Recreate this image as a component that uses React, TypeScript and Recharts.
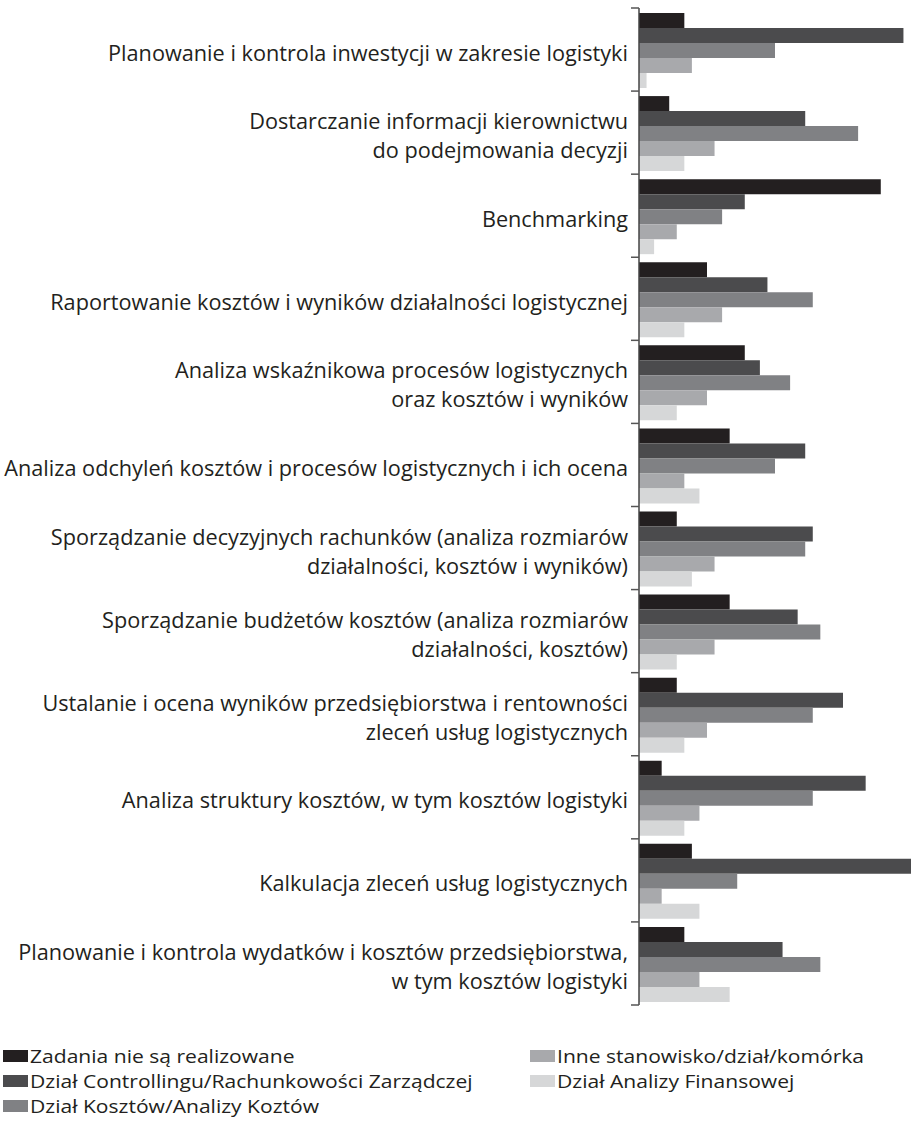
import React from "react";
import { BarChart, Bar, XAxis, YAxis } from "recharts";

// Categories (top to bottom); "\n" marks a line break in the axis label
const categories: string[] = [
  "Planowanie i kontrola inwestycji w zakresie logistyki",
  "Dostarczanie informacji kierownictwu\ndo podejmowania decyzji",
  "Benchmarking",
  "Raportowanie kosztów i wyników działalności logistycznej",
  "Analiza wskaźnikowa procesów logistycznych\noraz kosztów i wyników",
  "Analiza odchyleń kosztów i procesów logistycznych i ich ocena",
  "Sporządzanie decyzyjnych rachunków (analiza rozmiarów\ndziałalności, kosztów i wyników)",
  "Sporządzanie budżetów kosztów (analiza rozmiarów\ndziałalności, kosztów)",
  "Ustalanie i ocena wyników przedsiębiorstwa i rentowności\nzleceń usług logistycznych",
  "Analiza struktury kosztów, w tym kosztów logistyki",
  "Kalkulacja zleceń usług logistycznych",
  "Planowanie i kontrola wydatków i kosztów przedsiębiorstwa,\nw tym kosztów logistyki",
];

const seriesNames: string[] = [
  "Zadania nie są realizowane",
  "Dział Controllingu/Rachunkowości Zarządczej",
  "Dział Kosztów/Analizy Koztów",
  "Inne stanowisko/dział/komórka",
  "Dział Analizy Finansowej",
];

const zadaniaNieRealizowane: number[] = [6, 4, 32, 9, 14, 12, 5, 12, 5, 3, 7, 6];
const dzialControllingu: number[] = [35, 22, 14, 17, 16, 22, 23, 21, 27, 30, 36, 19];
const dzialKosztow: number[] = [18, 29, 11, 23, 20, 18, 22, 24, 23, 23, 13, 24];
const inneStanowisko: number[] = [7, 10, 5, 11, 9, 6, 10, 10, 9, 8, 3, 8];
const dzialAnalizyFinansowej: number[] = [1, 6, 2, 6, 5, 8, 7, 5, 6, 6, 8, 12];

const seriesValues: number[][] = [
  zadaniaNieRealizowane,
  dzialControllingu,
  dzialKosztow,
  inneStanowisko,
  dzialAnalizyFinansowej,
];

const seriesColors: string[] = ["#231f20", "#4b4b4d", "#808184", "#a8a9ac", "#d6d7d8"];

const data = categories.map((name, i) => {
  const row: Record<string, string | number> = { name };
  seriesValues.forEach((vals, s) => {
    row[`s${s}`] = vals[i];
  });
  return row;
});

const CHART_W = 911;
const CHART_H = 1015;
const MARGIN = { top: 8, right: 0, bottom: 10, left: 0 };
const AXIS_W = 639;
const PLOT_H = CHART_H - MARGIN.top - MARGIN.bottom;
const HALF_BAND = PLOT_H / categories.length / 2;
const FONT = "'Open Sans', sans-serif";
const TEXT_COLOR = "#231f20";

const CategoryTick = (props: any) => {
  const { x, y, payload, index } = props;
  const lines = String(payload.value).split("\n");
  const lineH = 29;
  const axisX = AXIS_W;
  const startY = y + 2 - ((lines.length - 1) * lineH) / 2;
  return (
    <g>
      <line x1={axisX - 8} x2={axisX} y1={y - HALF_BAND} y2={y - HALF_BAND} stroke="#555" strokeWidth={1.5} />
      {index === categories.length - 1 && (
        <line x1={axisX - 8} x2={axisX} y1={y + HALF_BAND} y2={y + HALF_BAND} stroke="#555" strokeWidth={1.5} />
      )}
      <text
        x={x - 3}
        y={startY}
        textAnchor="end"
        dominantBaseline="central"
        fontFamily={FONT}
        fontSize={21.7}
        fill={TEXT_COLOR}
      >
        {lines.map((ln, i) => (
          <tspan key={i} x={x - 3} y={startY + i * lineH}>
            {ln}
          </tspan>
        ))}
      </text>
    </g>
  );
};

const legendLeft = [0, 1, 2];
const legendRight = [3, 4];

const LegendItem = ({ idx }: { idx: number }) => (
  <div style={{ display: "flex", alignItems: "center", height: 25 }}>
    <span
      style={{
        display: "inline-block",
        width: 25,
        height: 12,
        background: seriesColors[idx],
        marginRight: 2,
        flex: "none",
      }}
    />
    <span
      style={{
        fontFamily: FONT,
        fontSize: 18,
        lineHeight: "24px",
        color: TEXT_COLOR,
        whiteSpace: "nowrap",
        display: "inline-block",
        transform: "scaleX(1.17)",
        transformOrigin: "left center",
      }}
    >
      {seriesNames[idx]}
    </span>
  </div>
);

export default function App() {
  return (
    <div style={{ position: "absolute", left: 0, top: 0, width: 911, height: 1128, background: "#fff" }}>
      <BarChart
        width={CHART_W}
        height={CHART_H}
        data={data}
        layout="vertical"
        margin={MARGIN}
        barCategoryGap={5}
        barGap={0}
      >
        <XAxis type="number" domain={[0, 36]} hide />
        <YAxis
          type="category"
          dataKey="name"
          width={AXIS_W}
          tickLine={false}
          axisLine={{ stroke: "#444", strokeWidth: 1.5 }}
          tick={<CategoryTick />}
          interval={0}
        />
        {seriesNames.map((n, s) => (
          <Bar key={n} dataKey={`s${s}`} name={n} fill={seriesColors[s]} isAnimationActive={false} />
        ))}
      </BarChart>
      <div style={{ position: "absolute", left: 3, top: 1043, display: "flex" }}>
        <div style={{ width: 527 }}>
          {legendLeft.map((i) => (
            <LegendItem key={i} idx={i} />
          ))}
        </div>
        <div>
          {legendRight.map((i) => (
            <LegendItem key={i} idx={i} />
          ))}
        </div>
      </div>
    </div>
  );
}
